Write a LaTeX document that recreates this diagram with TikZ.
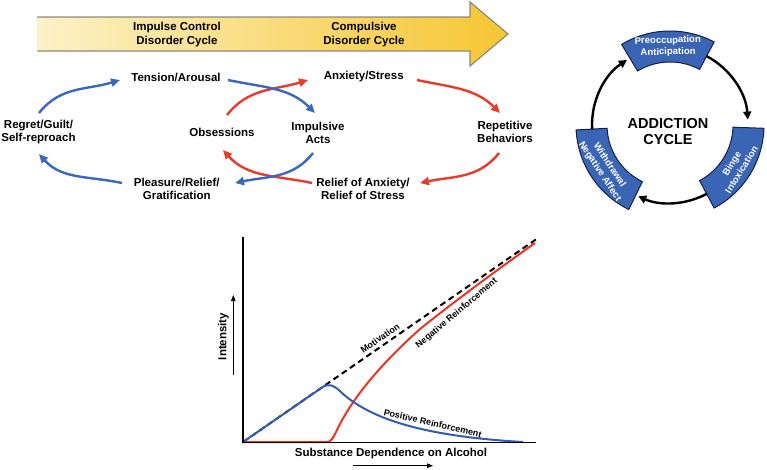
\documentclass[tikz,border=0pt]{standalone}
\usepackage{fontspec}
\setmainfont{Liberation Sans}
\usetikzlibrary{arrows.meta,calc}
\definecolor{cblue}{RGB}{58,104,188}
\definecolor{cred}{RGB}{233,58,42}
\definecolor{boxblue}{RGB}{58,100,180}
\definecolor{boxedge}{RGB}{22,32,72}
\definecolor{bandl}{RGB}{252,242,200}
\definecolor{bandr}{RGB}{246,198,50}
\definecolor{bandedge}{RGB}{140,138,125}
\definecolor{gblue}{RGB}{52,92,178}
\definecolor{gred}{RGB}{236,52,38}
\begin{document}
\begin{tikzpicture}[x=1pt,y=1pt,
  lbl/.style={font=\fontsize{11.5}{13.2}\selectfont\bfseries, align=center, inner sep=0pt},
  bluearc/.style={draw=cblue, line width=2.4pt, -{Triangle[length=9pt,width=8pt]}},
  redarc/.style={draw=cred, line width=2.4pt, -{Triangle[length=9pt,width=8pt]}},
  cbox/.style={fill=boxblue, draw=boxedge, line width=1pt},
  boxtxt/.style={font=\fontsize{9.5}{11.5}\selectfont\bfseries, text=white, align=center, inner sep=0pt},
  cyc/.style={draw=black, line width=2.4pt, -{Triangle[length=8pt,width=8pt]}},
  glbl/.style={font=\fontsize{9}{10}\selectfont\bfseries, inner sep=0pt},
  axisline/.style={draw=black, line width=1.5pt},
  smallarrow/.style={draw=black, line width=1pt, -{Triangle[length=6pt,width=4.5pt]}}
]
\useasboundingbox (0,0) rectangle (767,-469);
\fill[white] (0,0) rectangle (767,-469);

% ---- band arrow
\shade[left color=bandl, right color=bandr] (37,-17) -- (470,-17) -- (470,-2) -- (508,-34) -- (470,-66) -- (470,-51) -- (37,-51) -- cycle;
\draw[bandedge, line width=1.2pt] (37,-17) -- (470,-17) -- (470,-2) -- (508,-34) -- (470,-66) -- (470,-51) -- (37,-51);

% ---- cycle labels
\node[lbl] (icd) at (177,-34.5) {Impulse Control\\Disorder Cycle};
\node[lbl] (cdc) at (364,-34.5) {Compulsive\\Disorder Cycle};
\node[lbl] (tension) at (176,-77) {Tension/Arousal};
\node[lbl] (anxiety) at (363.7,-77) {Anxiety/Stress};
\node[lbl] (regret) at (38.5,-132) {Regret/Guilt/\\Self-reproach};
\node[lbl] (obsess) at (222,-132.7) {Obsessions};
\node[lbl] (impulsive) at (318,-132.5) {Impulsive\\Acts};
\node[lbl] (repet) at (505,-132) {Repetitive\\Behaviors};
\node[lbl] (pleasure) at (176.7,-189) {Pleasure/Relief/\\Gratification};
\node[lbl] (relief) at (363,-189) {Relief of Anxiety/\\Relief of Stress};

% ---- red cycle
\draw[redarc] ([shift={(5,17.7)}]obsess.center) to[out=52,in=197] ([shift={(-55.7,-3)}]anxiety.center);
\draw[redarc] ([shift={(53.3,-3)}]anxiety.center) to[out=-12,in=135] ([shift={(-5,19)}]repet.center);
\draw[redarc] ([shift={(-6,-21)}]repet.center) to[out=232,in=12] ([shift={(57,6)}]relief.center);
\draw[redarc] ([shift={(-51,6)}]relief.center) to[out=168,in=-48] ([shift={(1,-17.3)}]obsess.center);
% ---- blue cycle
\draw[bluearc] ([shift={(0.5,19)}]regret.center) to[out=52,in=197] ([shift={(-56,-3)}]tension.center);
\draw[bluearc] ([shift={(52,-3)}]tension.center) to[out=-12,in=135] ([shift={(-3,19.5)}]impulsive.center);
\draw[bluearc] ([shift={(-5,-20.5)}]impulsive.center) to[out=232,in=12] ([shift={(58.3,6)}]pleasure.center);
\draw[bluearc] ([shift={(-54.7,6)}]pleasure.center) to[out=168,in=-48] ([shift={(0.5,-22)}]regret.center);

% ---- addiction cycle
\coordinate (C) at (670,-125);
\foreach \s/\e in {62/121, 183/244, -62/-2}{
  \draw[cbox] ($(C)+(\s:94pt)$) arc[start angle=\s, end angle=\e, radius=94pt]
     -- ($(C)+(\e:63pt)$) arc[start angle=\e, end angle=\s, radius=63pt] -- cycle;
}
\draw[cyc] ($(C)+(183:78pt)$) arc[start angle=183, end angle=123.5, radius=78pt];
\draw[cyc] ($(C)+(62:78pt)$) arc[start angle=62, end angle=4, radius=78pt];
\draw[cyc] ($(C)+(298:78pt)$) arc[start angle=298, end angle=246, radius=78pt];
\node[boxtxt, rotate=1.5] (preocc) at ($(C)+(91.5:78.5pt)$) {Preoccupation\\Anticipation};
\node[boxtxt, rotate=-56.5] (withdr) at ($(C)+(213.5:78.5pt)$) {Withdrawal\\Negative Affect};
\node[boxtxt, rotate=58] (binge) at ($(C)+(328:78.5pt)$) {Binge\\Intoxication};
\node[font=\fontsize{14.5}{16}\selectfont\bfseries, align=center, inner sep=0pt] (addc) at (668,-132) {ADDICTION\\CYCLE};

% ---- graph
\draw[gred, line width=2pt] (243,-442) -- (327,-442) .. controls (331,-442) and (333,-438) .. (336,-432)
   .. controls (352,-398) and (380,-365) .. (420,-329)
   .. controls (460,-297) and (500,-268) .. (535,-243);
\draw[black, line width=2pt, dash pattern=on 6pt off 4pt] (243,-442) -- (538,-238);
\draw[gblue, line width=2pt] (243,-442) -- (322,-387.5) .. controls (328,-383.5) and (333,-384) .. (342,-393)
   .. controls (370,-418) and (420,-436) .. (523,-442);
\draw[axisline] (243,-237) -- (243,-442.5) -- (536,-442.5);

\node[glbl, rotate=34.6] (motiv) at (380,-338) {Motivation};
\node[glbl, rotate=40] (negr) at (456.7,-313.3) {Negative Reinforcement};
\node[glbl, rotate=-13] (posr) at (432.7,-423.3) {Positive Reinforcement};
\node[lbl, rotate=90] (inten) at (223.3,-336.5) {Intensity};
\node[lbl] (subst) at (391,-454) {Substance Dependence on Alcohol};
\draw[smallarrow] (233.3,-375) -- (233.3,-295);
\draw[smallarrow] (353,-465.7) -- (433,-465.7);
\end{tikzpicture}
\end{document}
